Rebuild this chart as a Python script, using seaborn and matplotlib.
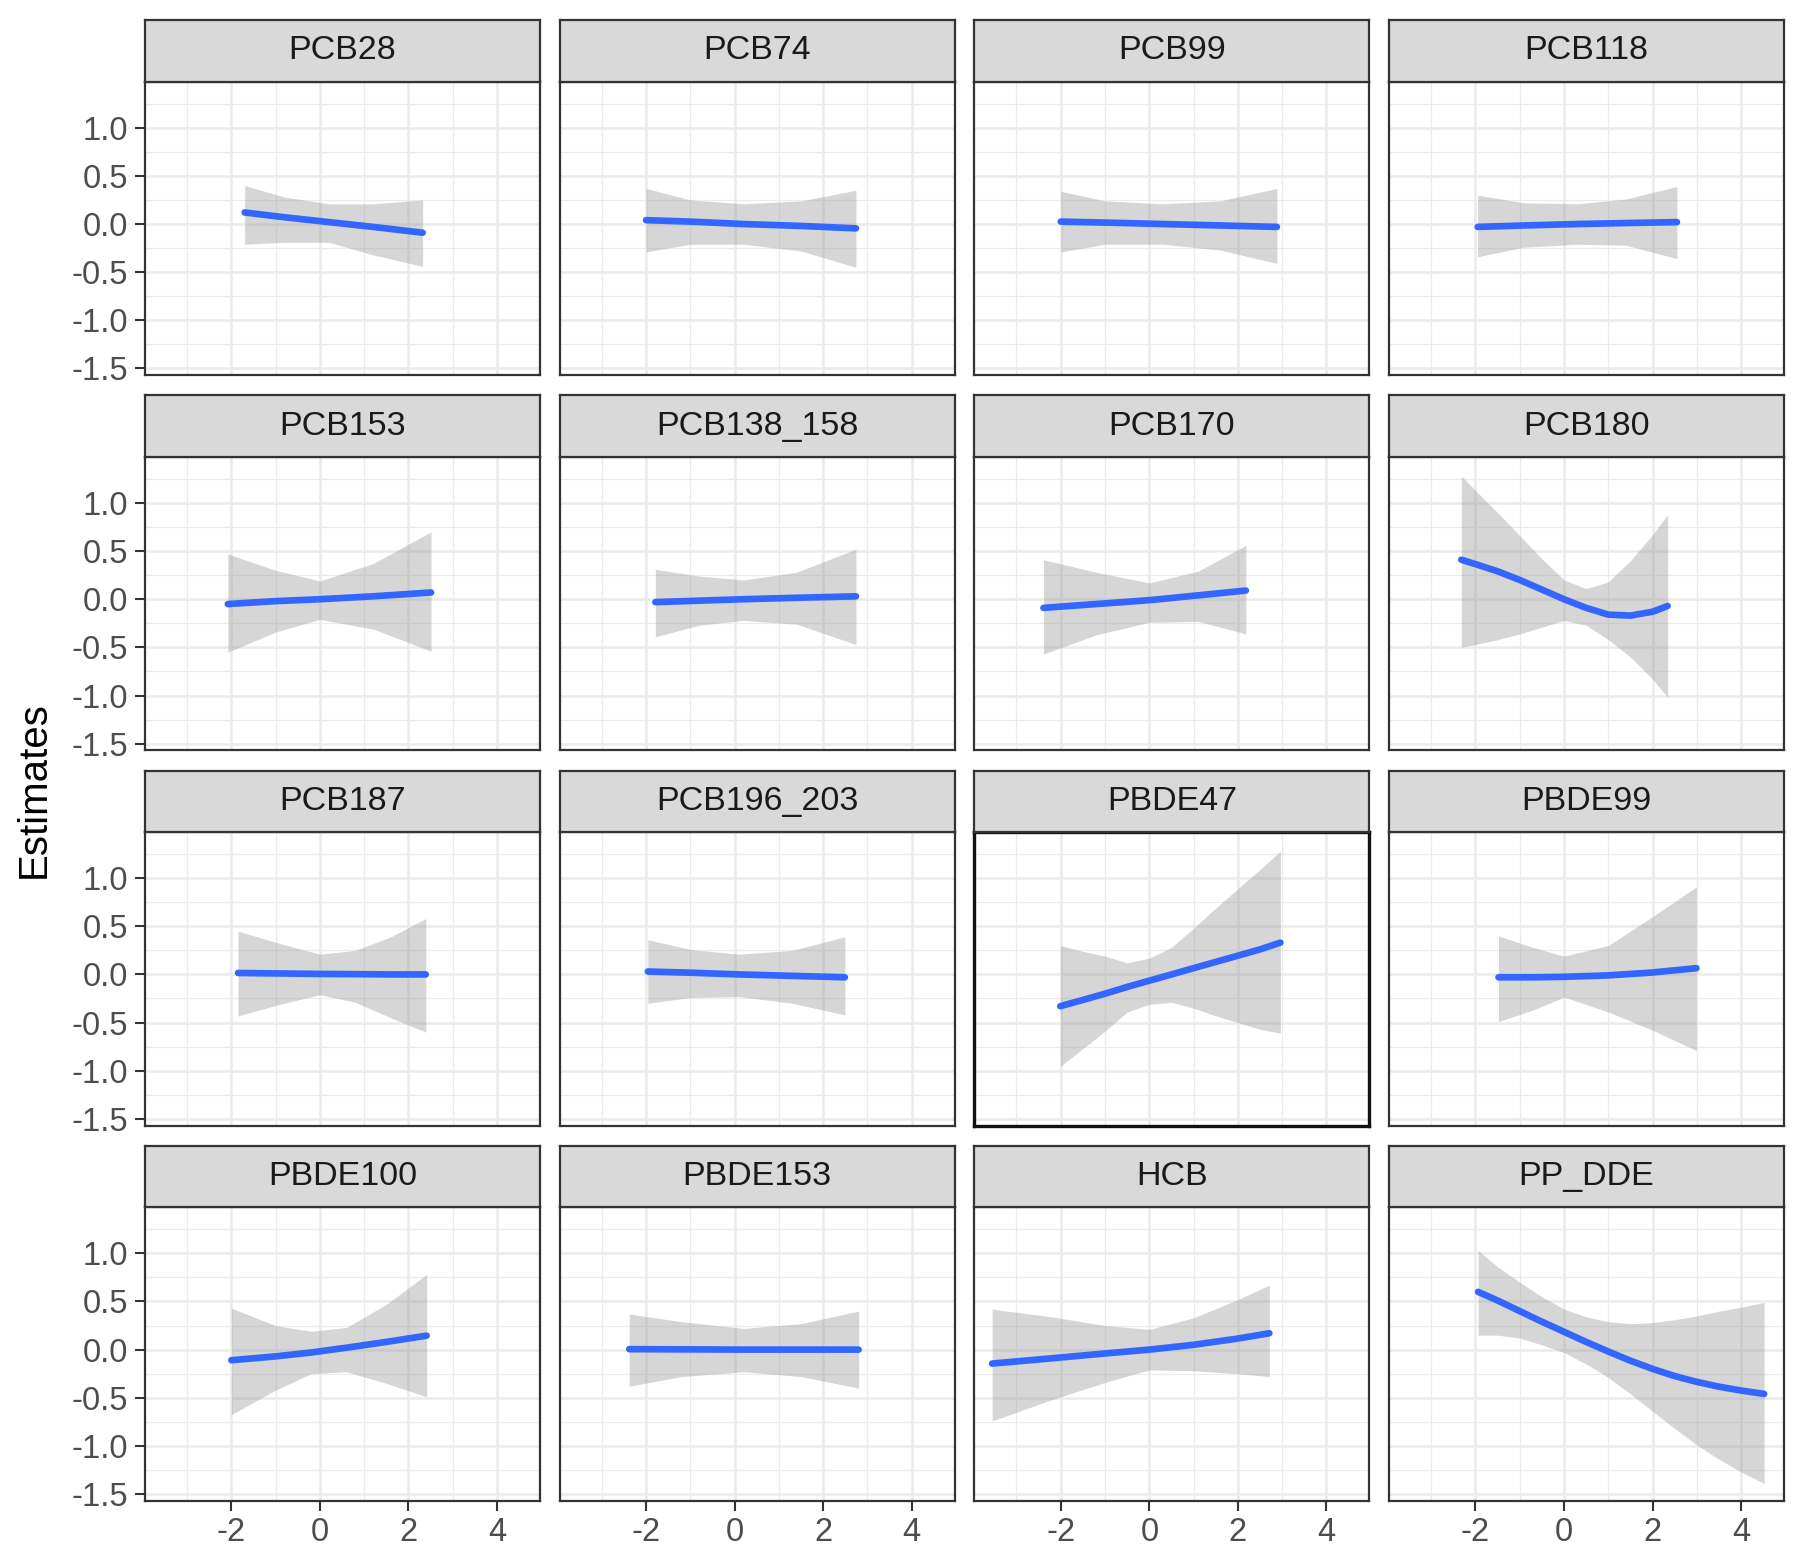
import matplotlib
matplotlib.use("Agg")
import matplotlib.pyplot as plt
import seaborn as sns
import pandas as pd

# --- data (x, fitted estimate, lower / upper CI) ---
chemicals = ["PCB28", "PCB74", "PCB99", "PCB118",
             "PCB153", "PCB138_158", "PCB170", "PCB180",
             "PCB187", "PCB196_203", "PBDE47", "PBDE99",
             "PBDE100", "PBDE153", "HCB", "PP_DDE"]

PCB28_x = [-1.70, -0.80, 0.20, 1.20, 2.32]
PCB28_fit = [0.12, 0.07, 0.02, -0.03, -0.09]
PCB28_lo = [-0.21, -0.19, -0.19, -0.32, -0.44]
PCB28_hi = [0.40, 0.28, 0.21, 0.21, 0.25]

PCB74_x = [-2.00, -1.00, 0.20, 1.50, 2.74]
PCB74_fit = [0.04, 0.025, 0.0, -0.02, -0.045]
PCB74_lo = [-0.29, -0.21, -0.21, -0.28, -0.45]
PCB74_hi = [0.37, 0.25, 0.21, 0.24, 0.35]

PCB99_x = [-2.00, -1.00, 0.30, 1.60, 2.88]
PCB99_fit = [0.025, 0.015, 0.0, -0.015, -0.03]
PCB99_lo = [-0.29, -0.21, -0.21, -0.27, -0.41]
PCB99_hi = [0.34, 0.24, 0.21, 0.24, 0.37]

PCB118_x = [-1.95, -0.90, 0.30, 1.40, 2.55]
PCB118_fit = [-0.03, -0.015, 0.0, 0.01, 0.02]
PCB118_lo = [-0.34, -0.24, -0.21, -0.22, -0.36]
PCB118_hi = [0.30, 0.22, 0.21, 0.26, 0.39]

PCB153_x = [-2.08, -1.00, 0.00, 1.20, 2.51]
PCB153_fit = [-0.05, -0.02, 0.0, 0.03, 0.07]
PCB153_lo = [-0.55, -0.34, -0.21, -0.31, -0.54]
PCB153_hi = [0.47, 0.30, 0.19, 0.37, 0.70]

PCB138_158_x = [-1.79, -0.80, 0.20, 1.40, 2.74]
PCB138_158_fit = [-0.03, -0.015, 0.0, 0.015, 0.03]
PCB138_158_lo = [-0.39, -0.27, -0.22, -0.26, -0.47]
PCB138_158_hi = [0.31, 0.24, 0.20, 0.28, 0.52]

PCB170_x = [-2.39, -1.20, 0.00, 1.10, 2.18]
PCB170_fit = [-0.09, -0.05, -0.01, 0.04, 0.09]
PCB170_lo = [-0.57, -0.37, -0.24, -0.23, -0.36]
PCB170_hi = [0.41, 0.28, 0.17, 0.29, 0.56]

PCB180_x = [-2.32, -2.00, -1.50, -1.00, -0.50, 0.00, 0.50, 1.00, 1.50, 2.00, 2.34]
PCB180_fit = [0.41, 0.365, 0.29, 0.20, 0.10, 0.00, -0.09, -0.16, -0.17, -0.13, -0.07]
PCB180_lo = [-0.50, -0.47, -0.42, -0.36, -0.29, -0.22, -0.27, -0.42, -0.60, -0.83, -1.02]
PCB180_hi = [1.28, 1.13, 0.90, 0.66, 0.42, 0.20, 0.11, 0.18, 0.40, 0.67, 0.88]

PCB187_x = [-1.85, -0.90, 0.00, 0.80, 1.60, 2.39]
PCB187_fit = [0.015, 0.01, 0.005, 0.003, 0.0, 0.0]
PCB187_lo = [-0.43, -0.31, -0.21, -0.29, -0.45, -0.60]
PCB187_hi = [0.45, 0.32, 0.21, 0.25, 0.39, 0.58]

PCB196_203_x = [-1.96, -1.00, 0.10, 1.30, 2.49]
PCB196_203_fit = [0.03, 0.018, 0.0, -0.015, -0.03]
PCB196_203_lo = [-0.30, -0.24, -0.23, -0.30, -0.42]
PCB196_203_hi = [0.36, 0.26, 0.21, 0.25, 0.39]

PBDE47_x = [-2.01, -1.50, -1.00, -0.50, 0.00, 0.50, 1.00, 1.50, 2.00, 2.50, 2.96]
PBDE47_fit = [-0.33, -0.265, -0.20, -0.13, -0.065, 0.0, 0.065, 0.13, 0.195, 0.26, 0.33]
PBDE47_lo = [-0.955, -0.77, -0.59, -0.39, -0.31, -0.29, -0.35, -0.43, -0.50, -0.57, -0.61]
PBDE47_hi = [0.30, 0.24, 0.19, 0.12, 0.17, 0.28, 0.48, 0.69, 0.89, 1.09, 1.28]

PBDE99_x = [-1.48, -0.70, 0.00, 1.00, 2.00, 2.99]
PBDE99_fit = [-0.03, -0.03, -0.025, -0.01, 0.02, 0.065]
PBDE99_lo = [-0.49, -0.37, -0.235, -0.39, -0.58, -0.79]
PBDE99_hi = [0.40, 0.28, 0.19, 0.30, 0.60, 0.91]

PBDE100_x = [-2.00, -1.00, -0.20, 0.60, 1.50, 2.41]
PBDE100_fit = [-0.11, -0.07, -0.03, 0.02, 0.08, 0.145]
PBDE100_lo = [-0.675, -0.42, -0.25, -0.23, -0.35, -0.49]
PBDE100_hi = [0.43, 0.25, 0.19, 0.23, 0.47, 0.78]

PBDE153_x = [-2.38, -1.20, 0.20, 1.50, 2.80]
PBDE153_fit = [0.005, 0.003, 0.0, 0.0, 0.0]
PBDE153_lo = [-0.38, -0.28, -0.23, -0.28, -0.40]
PBDE153_hi = [0.37, 0.29, 0.22, 0.27, 0.40]

HCB_x = [-3.55, -2.20, -1.00, 0.00, 1.00, 2.00, 2.71]
HCB_fit = [-0.145, -0.09, -0.04, 0.0, 0.05, 0.115, 0.17]
HCB_lo = [-0.74, -0.52, -0.34, -0.21, -0.22, -0.25, -0.28]
HCB_hi = [0.42, 0.34, 0.25, 0.21, 0.33, 0.52, 0.67]

PP_DDE_x = [-1.94, -1.50, -1.00, -0.50, 0.00, 0.50, 1.00, 1.50, 2.00, 2.50, 3.00, 3.50, 4.00, 4.52]
PP_DDE_fit = [0.60, 0.51, 0.40, 0.29, 0.185, 0.08, -0.02, -0.115, -0.20, -0.275, -0.335, -0.385, -0.425, -0.46]
PP_DDE_lo = [0.15, 0.15, 0.12, 0.05, -0.03, -0.15, -0.29, -0.46, -0.64, -0.82, -0.99, -1.14, -1.27, -1.39]
PP_DDE_hi = [1.03, 0.86, 0.70, 0.55, 0.42, 0.34, 0.29, 0.27, 0.28, 0.31, 0.35, 0.40, 0.44, 0.49]

x_ticks = [-2, 0, 2, 4]
x_tick_labels = ["-2", "0", "2", "4"]
y_ticks = [-1.5, -1.0, -0.5, 0.0, 0.5, 1.0]
y_tick_labels = ["-1.5", "-1.0", "-0.5", "0.0", "0.5", "1.0"]

series = {
    "PCB28": (PCB28_x, PCB28_fit, PCB28_lo, PCB28_hi),
    "PCB74": (PCB74_x, PCB74_fit, PCB74_lo, PCB74_hi),
    "PCB99": (PCB99_x, PCB99_fit, PCB99_lo, PCB99_hi),
    "PCB118": (PCB118_x, PCB118_fit, PCB118_lo, PCB118_hi),
    "PCB153": (PCB153_x, PCB153_fit, PCB153_lo, PCB153_hi),
    "PCB138_158": (PCB138_158_x, PCB138_158_fit, PCB138_158_lo, PCB138_158_hi),
    "PCB170": (PCB170_x, PCB170_fit, PCB170_lo, PCB170_hi),
    "PCB180": (PCB180_x, PCB180_fit, PCB180_lo, PCB180_hi),
    "PCB187": (PCB187_x, PCB187_fit, PCB187_lo, PCB187_hi),
    "PCB196_203": (PCB196_203_x, PCB196_203_fit, PCB196_203_lo, PCB196_203_hi),
    "PBDE47": (PBDE47_x, PBDE47_fit, PBDE47_lo, PBDE47_hi),
    "PBDE99": (PBDE99_x, PBDE99_fit, PBDE99_lo, PBDE99_hi),
    "PBDE100": (PBDE100_x, PBDE100_fit, PBDE100_lo, PBDE100_hi),
    "PBDE153": (PBDE153_x, PBDE153_fit, PBDE153_lo, PBDE153_hi),
    "HCB": (HCB_x, HCB_fit, HCB_lo, HCB_hi),
    "PP_DDE": (PP_DDE_x, PP_DDE_fit, PP_DDE_lo, PP_DDE_hi),
}

rows = []
for name in chemicals:
    xs, fit, lo, hi = series[name]
    for i in range(len(xs)):
        rows.append({"chemical": name, "x": xs[i], "fit": fit[i], "lo": lo[i], "hi": hi[i]})
df = pd.DataFrame(rows)

# --- style ---
sns.set_theme(style="white")
plt.rcParams["font.family"] = ["Liberation Sans", "DejaVu Sans"]

BORDER = "#333333"
GRID = "#EBEBEB"


def ribbon(data, **kws):
    plt.gca().fill_between(data["x"], data["lo"], data["hi"],
                           color="#999999", alpha=0.4, linewidth=0, zorder=2)


g = sns.FacetGrid(df, col="chemical", col_wrap=4, col_order=chemicals,
                  sharex=True, sharey=True, height=3, aspect=1.3)
g.map_dataframe(ribbon)
g.map_dataframe(sns.lineplot, x="x", y="fit", color="#3366FF",
                linewidth=4.8, estimator=None, sort=True, zorder=3)
g.set_titles("")
g.set_axis_labels("", "")

fig = g.figure
fig.set_size_inches(18, 15.54)
W, H = 1800.0, 1554.0

for i, ax in enumerate(g.axes.flat):
    r, c = divmod(i, 4)
    left = 145 + c * 414.7
    top = 81.7 + r * 375.2
    pw, ph = 395, 293.5
    ax.set_position([left / W, 1 - (top + ph) / H, pw / W, ph / H])

    ax.set_xlim(-3.95, 4.97)
    ax.set_ylim(-1.57, 1.478)
    ax.set_xticks(x_ticks)
    ax.set_xticklabels(x_tick_labels)
    ax.set_xticks([-3, -1, 1, 3], minor=True)
    ax.set_yticks(y_ticks)
    ax.set_yticklabels(y_tick_labels)
    ax.set_yticks([-1.25, -0.75, -0.25, 0.25, 0.75, 1.25], minor=True)
    ax.set_facecolor("white")
    ax.grid(which="major", color=GRID, linewidth=1.8)
    ax.grid(which="minor", color=GRID, linewidth=0.9)
    ax.set_axisbelow(True)

    border_col, border_w = BORDER, 1.6
    if chemicals[i] == "PBDE47":
        border_col, border_w = "#111111", 2.4
    for sp in ax.spines.values():
        sp.set_visible(True)
        sp.set_color(border_col)
        sp.set_linewidth(border_w)

    ax.tick_params(which="minor", length=0)
    ax.tick_params(which="major", length=7, width=1.5, color=BORDER,
                   labelsize=23.5, labelcolor="#4D4D4D", pad=5)
    ax.tick_params(axis="y", left=(c == 0), labelleft=(c == 0))
    ax.tick_params(axis="x", bottom=(r == 3), labelbottom=(r == 3))

    # facet strip
    sax = fig.add_axes([left / W, 1 - top / H, pw / W, 61.5 / H])
    sax.set_facecolor("#D9D9D9")
    sax.set_xticks([])
    sax.set_yticks([])
    for sp in sax.spines.values():
        sp.set_color(BORDER)
        sp.set_linewidth(1.6)
    sax.text(0.5, 0.5, chemicals[i], ha="center", va="center",
             fontsize=24.5, color="#1A1A1A", transform=sax.transAxes)

fig.text(34 / W, 1 - 790 / H, "Estimates", rotation=90, ha="center",
         va="center", fontsize=29, color="black")

fig.savefig("out.png", dpi=100, facecolor="white")
